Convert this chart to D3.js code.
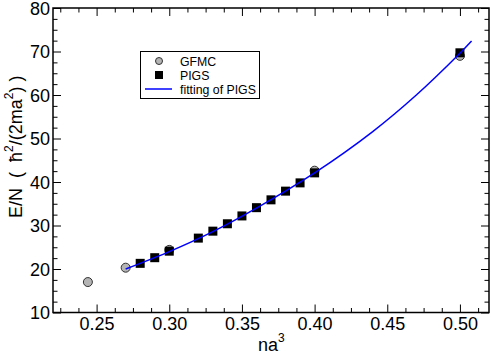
<!DOCTYPE html>
<html><head><meta charset="utf-8">
<script src="https://cdn.jsdelivr.net/npm/d3@7"></script>
<style>body{margin:0;background:#fff}svg{display:block;font-family:"Liberation Sans",Arial,sans-serif}</style>
</head><body><svg id="c" width="491" height="356"></svg>
<script>
const gfmcX = [0.244, 0.27, 0.30, 0.40, 0.50];
const gfmcY = [17.0, 20.3, 24.4, 42.6, 69.0];
const pigsX = [0.28, 0.29, 0.30, 0.32, 0.33, 0.34, 0.35, 0.36, 0.37, 0.38, 0.39, 0.40, 0.50];
const pigsY = [21.3, 22.6, 24.1, 27.1, 28.7, 30.4, 32.2, 34.1, 35.9, 37.9, 39.8, 42.1, 69.7];
const fitX = [0.27, 0.30, 0.33, 0.36, 0.40, 0.44, 0.47, 0.50, 0.508];
const fitY = [20.0, 24.0, 28.6, 34.0, 42.1, 51.6, 60.0, 69.6, 72.4];
const xTicks = [0.25, 0.30, 0.35, 0.40, 0.45, 0.50];
const yTicks = [10, 20, 30, 40, 50, 60, 70, 80];
const legendLabels = ["GFMC", "PIGS", "fitting of PIGS"];

const svg = d3.select("#c");
const L = 53, R = 489, T = 8, B = 312.5;
const x = d3.scaleLinear().domain([0.22, 0.52]).range([L, R]);
const y = d3.scaleLinear().domain([10, 80]).range([B, T]);

const xMinor = d3.range(0, 25).map(i => 0.2125 + i * 0.0125).filter(v => v > 0.2201 && v < 0.5199 && !xTicks.some(t => Math.abs(t - v) < 1e-6));
const yMinor = d3.range(0, 29).map(i => 10 + i * 2.5).filter(v => v > 10 && v < 80 && v % 10 !== 0);

function axes(){
  const fmtX = d3.format(".2f");
  svg.append("g").attr("transform", `translate(0,${B})`)
    .call(d3.axisBottom(x).tickValues(xTicks).tickFormat(fmtX).tickSizeInner(-8).tickSizeOuter(0))
    .call(g => { g.select(".domain").remove(); g.selectAll("text").attr("font-size", 18).attr("fill", "#000").attr("y", 17.5).attr("dy", 0); });
  svg.append("g").attr("transform", `translate(0,${B})`)
    .call(d3.axisBottom(x).tickValues(xMinor).tickFormat("").tickSizeInner(-4.5).tickSizeOuter(0))
    .call(g => g.select(".domain").remove());
  svg.append("g").attr("transform", `translate(0,${T})`)
    .call(d3.axisTop(x).tickValues(xTicks).tickFormat("").tickSizeInner(-8).tickSizeOuter(0))
    .call(g => g.select(".domain").remove());
  svg.append("g").attr("transform", `translate(0,${T})`)
    .call(d3.axisTop(x).tickValues(xMinor).tickFormat("").tickSizeInner(-4.5).tickSizeOuter(0))
    .call(g => g.select(".domain").remove());
  svg.append("g").attr("transform", `translate(${L},0)`)
    .call(d3.axisLeft(y).tickValues(yTicks).tickFormat(d3.format("d")).tickSizeInner(-8).tickSizeOuter(0).tickPadding(3))
    .call(g => { g.select(".domain").remove(); g.selectAll("text").attr("font-size", 18).attr("fill", "#000").attr("dy", "0.36em"); });
  svg.append("g").attr("transform", `translate(${L},0)`)
    .call(d3.axisLeft(y).tickValues(yMinor).tickFormat("").tickSizeInner(-4.5).tickSizeOuter(0))
    .call(g => g.select(".domain").remove());
  svg.append("g").attr("transform", `translate(${R},0)`)
    .call(d3.axisRight(y).tickValues(yTicks).tickFormat("").tickSizeInner(-8).tickSizeOuter(0))
    .call(g => g.select(".domain").remove());
  svg.append("g").attr("transform", `translate(${R},0)`)
    .call(d3.axisRight(y).tickValues(yMinor).tickFormat("").tickSizeInner(-4.5).tickSizeOuter(0))
    .call(g => g.select(".domain").remove());
  svg.selectAll(".tick line").attr("stroke", "#000").attr("stroke-width", 1);
  svg.append("rect").attr("x", L).attr("y", T).attr("width", R - L).attr("height", B - T)
    .attr("fill", "none").attr("stroke", "#000").attr("stroke-width", 1.5);
}
axes();

const plot = svg.append("g");
plot.selectAll("circle.g").data(gfmcX.map((v, i) => [v, gfmcY[i]])).enter().append("circle")
  .attr("cx", d => x(d[0])).attr("cy", d => y(d[1])).attr("r", 4.5)
  .attr("fill", "#b4b4b4").attr("stroke", "#333").attr("stroke-width", 1);
plot.selectAll("rect.p").data(pigsX.map((v, i) => [v, pigsY[i]])).enter().append("rect")
  .attr("x", d => x(d[0]) - 4.5).attr("y", d => y(d[1]) - 4.5).attr("width", 9).attr("height", 9)
  .attr("fill", "#000");
const line = d3.line().x(d => x(d[0])).y(d => y(d[1])).curve(d3.curveCatmullRom);
plot.append("path").datum(fitX.map((v, i) => [v, fitY[i]])).attr("d", line)
  .attr("fill", "none").attr("stroke", "#0000ff").attr("stroke-width", 1.5);

const lg = svg.append("g");
lg.append("rect").attr("x", 140.5).attr("y", 51.5).attr("width", 119).attr("height", 47)
  .attr("fill", "#fff").attr("stroke", "#000").attr("stroke-width", 1);
const ly = [61, 75, 89];
lg.append("circle").attr("cx", 159).attr("cy", ly[0]).attr("r", 3.5).attr("fill", "#b4b4b4").attr("stroke", "#333");
lg.append("rect").attr("x", 155).attr("y", ly[1] - 4).attr("width", 8).attr("height", 8).attr("fill", "#000");
lg.append("line").attr("x1", 145).attr("x2", 172).attr("y1", ly[2]).attr("y2", ly[2]).attr("stroke", "#0000ff").attr("stroke-width", 1.5);
legendLabels.forEach((t, i) => lg.append("text").attr("x", 180).attr("y", ly[i] + 4.5).attr("font-size", 12.3).text(t));

const xt = svg.append("text").attr("x", 258).attr("y", 351).attr("font-size", 18);
xt.append("tspan").text("na");
xt.append("tspan").attr("dy", -9).attr("font-size", 12).text("3");

const yt = svg.append("text").attr("transform", `translate(22,218) rotate(-90)`)
  .attr("text-anchor", "start").attr("font-size", 18).style("white-space", "pre");
yt.append("tspan").text("E/N  (  ħ");
yt.append("tspan").attr("dy", -9).attr("font-size", 12).text("2");
yt.append("tspan").attr("dy", 9).text("/(2ma");
yt.append("tspan").attr("dy", -9).attr("font-size", 12).text("2");
yt.append("tspan").attr("dy", 9).text(") )");
</script></body></html>
